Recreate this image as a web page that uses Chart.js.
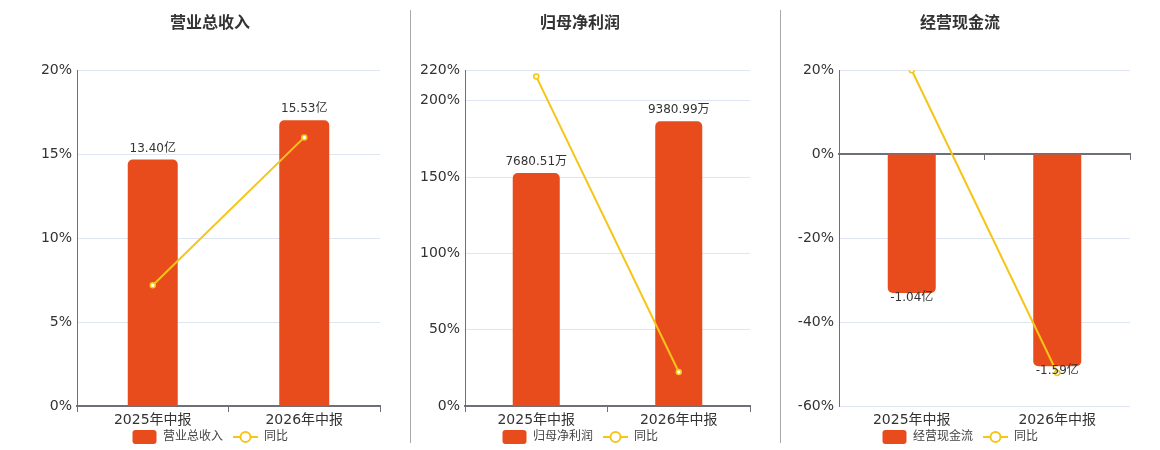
<!DOCTYPE html>
<html>
<head>
<meta charset="utf-8">
<script src="https://cdn.jsdelivr.net/npm/chart.js@4/dist/chart.umd.min.js"></script>
<style>
    body { margin: 0; background: #fff; }
    #wrap { position: relative; width: 1160px; height: 450px; overflow: hidden; }
    canvas { position: absolute; top: 0; }
    .sep { position: absolute; top: 10px; height: 433px; width: 1px; background: #a8a8a8; z-index: 2; }
</style>
</head>
<body>
<div id="wrap">
    <canvas id="revenueChart" width="420" height="450" style="left:0px"></canvas>
    <canvas id="profitChart" width="360" height="450" style="left:400px"></canvas>
    <canvas id="cashChart" width="360" height="450" style="left:780px"></canvas>
    <div class="sep" style="left:410px"></div>
    <div class="sep" style="left:780px"></div>
</div>
<script>
const periods = ['2025年中报', '2026年中报'];

const revenue = [13.40, 15.53];          // 亿
const revenueYoY = [7.2, 16.0];          // %
const revenueTicks = [0, 5, 10, 15, 20];

const profit = [7680.51, 9380.99];       // 万
const profitYoY = [215.8, 22.4];
const profitTicks = [0, 50, 100, 150, 200, 220];

const cashflow = [-1.04, -1.59];         // 亿
const cashflowYoY = [20.0, -52.1];
const cashflowTicks = [-60, -40, -20, 0, 20];

const BAR_COLOR = '#e84c1d';
const LINE_COLOR = '#f5c518';
const AXIS_COLOR = '#6e7079';
const FONT = '"DejaVu Sans", "Noto Sans CJK SC", sans-serif';

function makeIcon(kind) {
    const c = document.createElement('canvas');
    c.width = 25;
    c.height = 14;
    const ctx = c.getContext('2d');
    if (kind === 'bar') {
        ctx.fillStyle = BAR_COLOR;
        ctx.beginPath();
        ctx.roundRect(0.5, 0, 24, 14, 3);
        ctx.fill();
    } else {
        ctx.strokeStyle = LINE_COLOR;
        ctx.lineWidth = 2;
        ctx.beginPath();
        ctx.moveTo(0, 7);
        ctx.lineTo(25, 7);
        ctx.stroke();
        ctx.fillStyle = '#fff';
        ctx.beginPath();
        ctx.arc(12.5, 7, 5, 0, Math.PI * 2);
        ctx.fill();
        ctx.stroke();
    }
    return c;
}
const icons = [makeIcon('bar'), makeIcon('line')];

const barLabels = {
    id: 'barLabels',
    afterLayout(chart) {
        // pull the legend up, closer to the axis labels
        chart.legend.top -= 14;
        chart.legend.bottom -= 14;
    },
    afterDatasetsDraw(chart, args, opts) {
        const ctx = chart.ctx;
        const meta = chart.getDatasetMeta(0);
        const values = chart.data.datasets[0].data;
        ctx.save();
        ctx.font = '12px ' + FONT;
        ctx.fillStyle = '#333';
        ctx.textAlign = 'center';
        meta.data.forEach((bar, i) => {
            const v = values[i];
            const text = v.toFixed(2) + opts.unit;
            if (v >= 0) {
                ctx.textBaseline = 'bottom';
                ctx.fillText(text, bar.x, bar.y - 5);
            } else {
                ctx.textBaseline = 'top';
                ctx.fillText(text, bar.x, bar.y - 1);
            }
        });
        ctx.restore();
    }
};

function buildChart(id, title, barName, bars, yoy, ticks, barMin, barMax, unit, leftWidth, rightWidth) {
    new Chart(document.getElementById(id), {
        type: 'bar',
        data: {
            labels: periods,
            datasets: [{
                type: 'bar',
                label: barName,
                data: bars,
                yAxisID: 'y1',
                backgroundColor: BAR_COLOR,
                borderRadius: 5,
                borderSkipped: 'start',
                barPercentage: 0.33,
                categoryPercentage: 1,
                order: 1
            }, {
                type: 'line',
                label: '同比',
                data: yoy,
                yAxisID: 'y',
                borderColor: LINE_COLOR,
                borderWidth: 2,
                pointRadius: 2.5,
                pointBorderWidth: 1.5,
                pointBackgroundColor: '#fff',
                pointBorderColor: LINE_COLOR,
                tension: 0,
                order: 0
            }]
        },
        options: {
            responsive: false,
            animation: false,
            events: [],
            layout: { padding: { bottom: -17 } },
            scales: {
                x: {
                    offset: true,
                    grid: { display: false, drawTicks: false },
                    border: { display: false },
                    ticks: { color: '#333', font: { size: 14, family: FONT }, padding: 6 }
                },
                x2: {
                    type: 'category',
                    labels: periods,
                    offset: true,
                    position: { y: 0 },
                    grid: { drawOnChartArea: false, color: AXIS_COLOR, tickLength: 5, lineWidth: 1 },
                    border: { color: AXIS_COLOR, width: 2 },
                    ticks: { display: false }
                },
                y: {
                    position: 'left',
                    min: ticks[0],
                    max: ticks[ticks.length - 1],
                    afterBuildTicks: scale => { scale.ticks = ticks.map(v => ({ value: v })); },
                    grid: { color: '#e0e6f1', drawTicks: false },
                    border: { color: AXIS_COLOR, width: 1 },
                    ticks: {
                        color: '#333',
                        font: { size: 14, family: FONT },
                        padding: 5,
                        callback: v => v + '%'
                    },
                    afterFit: scale => { scale.width = leftWidth; }
                },
                y1: {
                    position: 'right',
                    min: barMin,
                    max: barMax,
                    grid: { display: false, drawTicks: false },
                    border: { display: false },
                    ticks: { display: false },
                    afterFit: scale => { scale.width = rightWidth; }
                }
            },
            plugins: {
                title: {
                    display: true,
                    text: title,
                    color: '#333',
                    font: { size: 16, weight: 'bold', family: FONT },
                    padding: { top: 14, bottom: 37 }
                },
                legend: {
                    position: 'bottom',
                    labels: {
                        usePointStyle: true,
                        pointStyleWidth: 25,
                        boxHeight: 14,
                        padding: 10,
                        color: '#444',
                        font: { size: 12, family: FONT },
                        sort: (a, b) => a.datasetIndex - b.datasetIndex,
                        generateLabels: chart => {
                            const items = Chart.defaults.plugins.legend.labels.generateLabels(chart);
                            items.forEach(item => { item.pointStyle = icons[item.datasetIndex]; });
                            return items;
                        }
                    }
                },
                tooltip: { enabled: false },
                barLabels: { unit: unit }
            }
        },
        plugins: [barLabels]
    });
}

buildChart('revenueChart', '营业总收入', '营业总收入', revenue, revenueYoY, revenueTicks, 0, 18.25, '亿', 77, 40);
buildChart('profitChart', '归母净利润', '归母净利润', profit, profitYoY, profitTicks, 0, 11066, '万', 65, 10);
buildChart('cashChart', '经营现金流', '经营现金流', cashflow, cashflowYoY, cashflowTicks, -1.891, 0.633, '亿', 59, 10);
</script>
</body>
</html>
